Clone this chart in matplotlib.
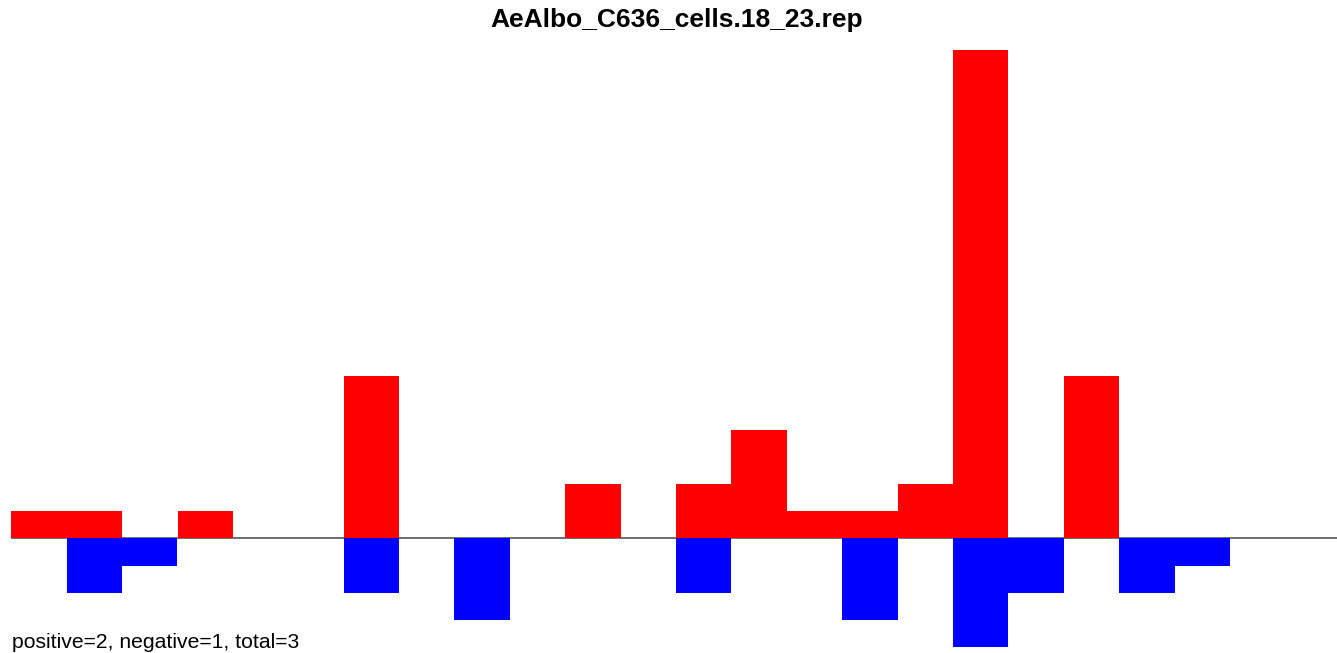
import matplotlib
matplotlib.use("Agg")
import matplotlib.pyplot as plt

plt.rcParams['font.family'] = ['Liberation Sans', 'DejaVu Sans']

title = "AeAlbo_C636_cells.18_23.rep"
positions = list(range(24))
positive = [1, 1, 0, 1, 0, 0, 6, 0, 0, 0, 2, 0, 2, 4, 1, 1, 2, 18, 0, 6, 0, 0, 0, 0]
negative = [0, 2, 1, 0, 0, 0, 2, 0, 3, 0, 0, 0, 2, 0, 0, 3, 0, 4, 2, 0, 2, 1, 0, 0]
summary = "positive=2, negative=1, total=3"

W, H = 1337, 653
fig = plt.figure(figsize=(W / 100, H / 100), dpi=100)
left, top, bottom = 11.3, 50, 647
binw = 55.4
ax = fig.add_axes([left / W, 1 - bottom / H, 24 * binw / W, (bottom - top) / H])
ax.bar(positions, positive, width=1.0, align='edge', color='#ff0000', linewidth=0)
ax.bar(positions, [-v for v in negative], width=1.0, align='edge', color='#0000ff', linewidth=0)
ax.axhline(0, color='#555555', linewidth=1.2, zorder=0)
ax.set_xlim(0, 24)
ax.set_ylim(-4, 18)
ax.axis('off')

fig.text(677 / W, 1 - 27 / H, title, ha='center', va='baseline', fontsize=19, fontweight='bold')
fig.text(12 / W, 1 - 648 / H, summary, ha='left', va='baseline', fontsize=15.2)

fig.savefig("out.png", dpi=100)
